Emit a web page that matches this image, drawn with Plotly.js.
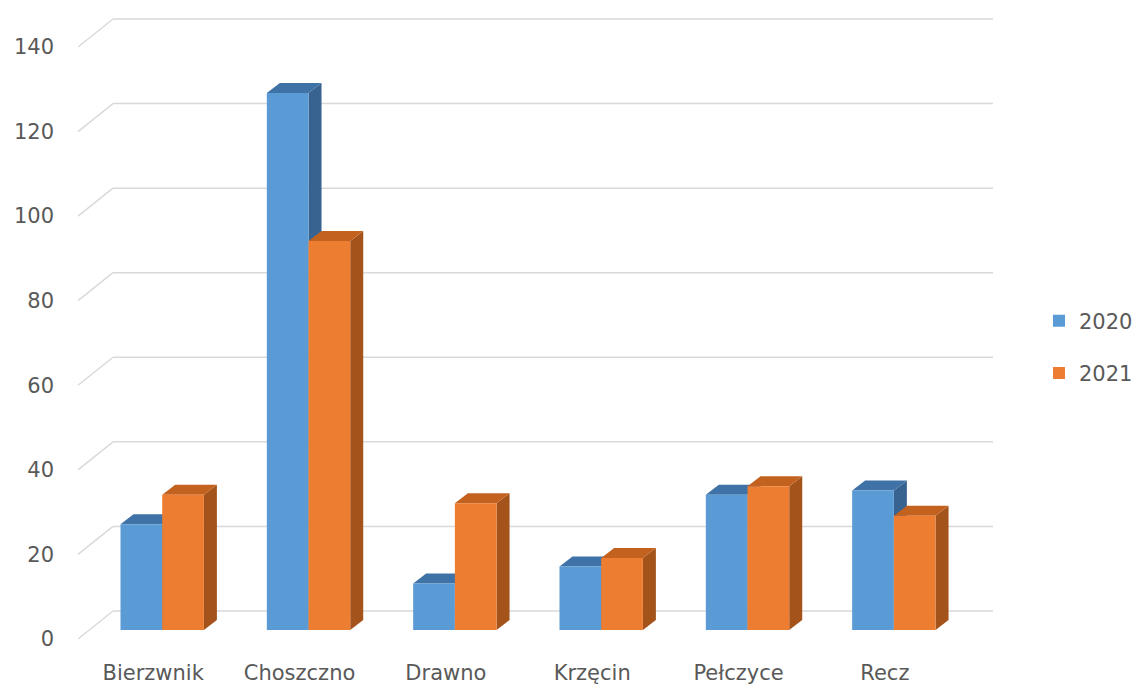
<!DOCTYPE html>
<html>
<head>
<meta charset="utf-8">
<script src="https://cdn.plot.ly/plotly-3.0.1.min.js"></script>
<style>html,body{margin:0;padding:0;background:#fff;}#chart{width:1140px;height:689px;}</style>
</head>
<body>
<div id="chart"></div>
<script>
// ---- data ----
const categories = ['Bierzwnik', 'Choszczno', 'Drawno', 'Krzęcin', 'Pełczyce', 'Recz'];
const seriesNames = ['2020', '2021'];
const values2020 = [25, 127, 11, 15, 32, 33];
const values2021 = [32, 92, 30, 17, 34, 27];
const yTicks = [0, 20, 40, 60, 80, 100, 120, 140];

// ---- styling / geometry (pixels) ----
const W = 1140, H = 689;
const M = {l: 70, r: 4, t: 12, b: 42, autoexpand: false};
const pxPerX = 146.33;          // pixels per category step
const CAT0_PX = 162.2;          // pixel centre of first category
const pxPerY = 4.2286;          // pixels per value unit
const ZERO_PX = 630;            // pixel position of value 0 (bar plane)
const X_RANGE = [(M.l - CAT0_PX) / pxPerX, (W - M.r - CAT0_PX) / pxPerX];
const Y_RANGE = [(ZERO_PX - (H - M.b)) / pxPerY, (ZERO_PX - M.t) / pxPerY];
const BARGAP = 0.43;
const DEPTH_PX = {x: 13, y: 10};
const ddx = DEPTH_PX.x / pxPerX;
const ddy = DEPTH_PX.y / pxPerY;
const barW = (1 - BARGAP) / 2;
const plotW = W - M.l - M.r, plotH = H - M.t - M.b;

const colors = {
  front: ['#5b9bd5', '#ed7d31'],
  top:   ['#3f72a6', '#c3621f'],
  side:  ['#386390', '#a4531b']
};
const FONT = {family: 'DejaVu Sans, Open Sans, sans-serif', size: 21, color: '#595959'};

const xIdx = categories.map((c, i) => i);
const seriesValues = [values2020, values2021];

const traces = seriesValues.map((vals, s) => ({
  type: 'bar',
  name: seriesNames[s],
  x: xIdx,
  y: vals,
  marker: {color: colors.front[s], line: {width: 0}},
  legendgroup: 'g' + s,
  hoverinfo: 'skip'
}));

const shapes = [];
// gridlines: back wall + slanted left wall (pixel offsets from plot left)
const BACK_X0 = 113 - M.l, BACK_X1 = 993 - M.l, FRONT_X = 78 - M.l;
yTicks.forEach(v => {
  shapes.push({type: 'line', layer: 'below', xref: 'paper', xsizemode: 'pixel', xanchor: 0,
    x0: BACK_X0, x1: BACK_X1, yref: 'y', ysizemode: 'pixel', yanchor: v, y0: 19, y1: 19,
    line: {color: '#d9d9d9', width: 1.5}});
  shapes.push({type: 'line', layer: 'below', xref: 'paper', xsizemode: 'pixel', xanchor: 0,
    x0: FRONT_X, x1: BACK_X0, yref: 'y', ysizemode: 'pixel', yanchor: v, y0: -9, y1: 19,
    line: {color: '#d9d9d9', width: 1.5}});
});
// 3D faces (side and top) computed from data values
seriesValues.forEach((vals, s) => {
  vals.forEach((v, i) => {
    const xl = i - barW + s * barW;
    const xr = xl + barW;
    shapes.push({type: 'path', layer: 'below', xref: 'x', yref: 'y',
      path: `M${xr},0 L${xr + ddx},${ddy} L${xr + ddx},${v + ddy} L${xr},${v} Z`,
      fillcolor: colors.side[s], line: {width: 0}});
    shapes.push({type: 'path', layer: 'below', xref: 'x', yref: 'y',
      path: `M${xl},${v} L${xr},${v} L${xr + ddx},${v + ddy} L${xl + ddx},${v + ddy} Z`,
      fillcolor: colors.top[s], line: {width: 0}});
  });
});

const LEGEND_PX = {x: 1039, y: 347};

const layout = {
  width: W, height: H,
  margin: M,
  paper_bgcolor: '#ffffff',
  plot_bgcolor: 'rgba(0,0,0,0)',
  font: FONT,
  barmode: 'group',
  bargap: BARGAP,
  bargroupgap: 0,
  showlegend: true,
  legend: {x: (LEGEND_PX.x - M.l) / plotW, y: (H - M.b - LEGEND_PX.y) / plotH,
    xanchor: 'left', yanchor: 'middle', font: FONT,
    tracegroupgap: 22, bgcolor: 'rgba(0,0,0,0)'},
  xaxis: {range: X_RANGE, tickvals: xIdx, ticktext: categories, showgrid: false,
    zeroline: false, showline: false, ticks: '', ticklabelshift: -9, ticklabelstandoff: 11,
    tickfont: FONT, fixedrange: true, automargin: false},
  yaxis: {range: Y_RANGE, tickvals: yTicks, showgrid: false, zeroline: false,
    showline: false, ticks: '', ticklabelshift: 9, ticklabelstandoff: 15,
    tickfont: FONT, fixedrange: true, automargin: false},
  shapes: shapes
};

Plotly.newPlot('chart', traces, layout, {displayModeBar: false, staticPlot: true});
</script>
</body>
</html>
